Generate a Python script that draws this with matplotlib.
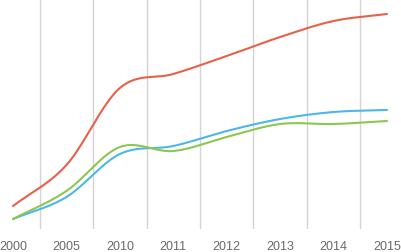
import numpy as np
import matplotlib
matplotlib.use("Agg")
import matplotlib.pyplot as plt

years = ["2000", "2005", "2010", "2011", "2012", "2013", "2014", "2015"]
red_vals = [23, 64, 141, 155, 173, 192, 208, 215]
blue_vals = [10, 32, 75, 83, 98, 110, 117, 119]
green_vals = [10, 38, 82, 78, 92, 105, 105, 108]


def smooth(x, y, n=30):
    # Catmull-Rom curve through the points, like a spreadsheet "smoothed line"
    x = np.asarray(x, float)
    y = np.asarray(y, float)
    px = np.concatenate([[2 * x[0] - x[1]], x, [2 * x[-1] - x[-2]]])
    py = np.concatenate([[2 * y[0] - y[1]], y, [2 * y[-1] - y[-2]]])
    xs, ys = [], []
    t = np.linspace(0, 1, n)
    for i in range(1, len(px) - 2):
        for p, out in ((px, xs), (py, ys)):
            p0, p1, p2, p3 = p[i - 1], p[i], p[i + 1], p[i + 2]
            out.append(0.5 * ((2 * p1) + (-p0 + p2) * t
                              + (2 * p0 - 5 * p1 + 4 * p2 - p3) * t ** 2
                              + (-p0 + 3 * p1 - 3 * p2 + p3) * t ** 3))
    return np.concatenate(xs), np.concatenate(ys)


fig = plt.figure(figsize=(4.01, 2.53), dpi=100)
ax = fig.add_axes([-13.7 / 401, 23 / 253, 427.4 / 401, 230 / 253])

xpos = np.arange(len(years))
for vals, col in ((red_vals, "#E8604A"), (blue_vals, "#4DB8E8"), (green_vals, "#8DC652")):
    sx, sy = smooth(xpos, vals)
    ax.plot(sx, sy, color=col, lw=1.5, solid_capstyle="round")

ax.set_xlim(-0.5, len(years) - 0.5)
ax.set_ylim(0, 230)
ax.set_xticks(xpos)
ax.set_xticklabels(years, fontsize=9, color="#6A6A6A", family="Liberation Sans")
ax.set_xticks(xpos[:-1] + 0.5, minor=True)
ax.grid(True, which="minor", axis="x", color="#D4D4D4", lw=1)
ax.tick_params(which="both", length=0, pad=8)
ax.set_yticks([])
for s in ax.spines.values():
    s.set_visible(False)
ax.set_facecolor("none")

fig.savefig("out.png", dpi=100)
